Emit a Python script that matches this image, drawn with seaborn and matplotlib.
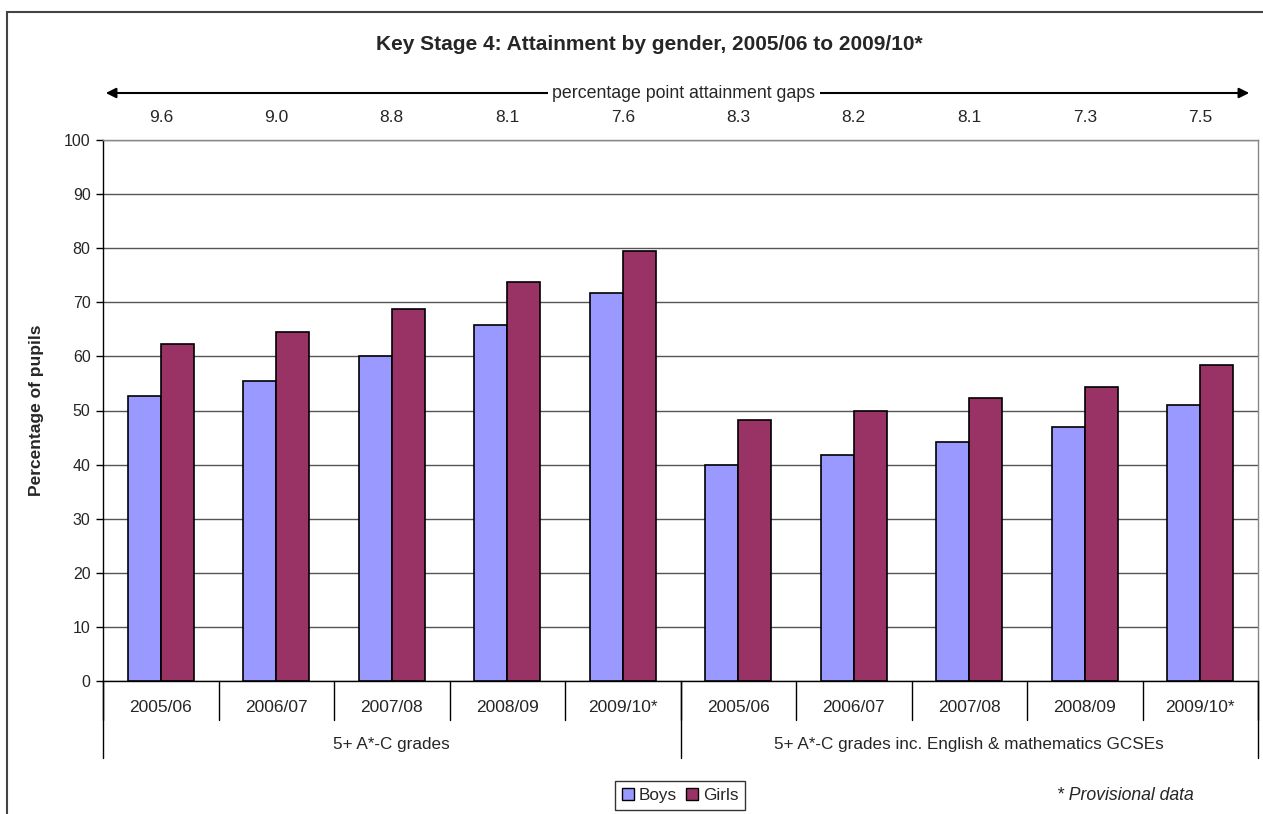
import matplotlib
matplotlib.use('Agg')
import matplotlib.pyplot as plt
import matplotlib.patches as mpatches
import matplotlib.transforms as mtrans
import seaborn as sns
import pandas as pd

# data
years = ['2005/06', '2006/07', '2007/08', '2008/09', '2009/10*']
groups = ['5+ A*-C grades', '5+ A*-C grades inc. English & mathematics GCSEs']
boys = [52.6, 55.5, 60.0, 65.8, 71.8, 39.9, 41.8, 44.2, 47.0, 51.1]
girls = [62.3, 64.5, 68.8, 73.8, 79.4, 48.2, 50.0, 52.3, 54.3, 58.5]
gaps = ['9.6', '9.0', '8.8', '8.1', '7.6', '8.3', '8.2', '8.1', '7.3', '7.5']

sns.set_style('white')
plt.rcParams['font.family'] = ['Liberation Sans', 'DejaVu Sans']

cats = [g[:1] + str(i) + '|' + y for i, g in enumerate(groups) for y in years]
df = pd.DataFrame({
    'cat': cats * 2,
    'value': boys + girls,
    'gender': ['Boys'] * len(cats) + ['Girls'] * len(cats),
})

fig = plt.figure(figsize=(12.63, 8.14), dpi=100)
ax = fig.add_axes([103 / 1263, 133 / 814, 1155 / 1263, 541 / 814])

sns.barplot(data=df, x='cat', y='value', hue='gender', order=cats,
            palette={'Boys': '#9999FF', 'Girls': '#993366'}, saturation=1,
            width=0.571, edgecolor='black', linewidth=1.2, ax=ax, legend=False,
            zorder=3)

ax.set_xlim(-0.5, len(cats) - 0.5)
ax.set_ylim(0, 100)
ax.set_yticks(range(0, 101, 10))
ax.yaxis.grid(True, color='#555555', linewidth=1, zorder=0)
ax.set_xticks([])
ax.set_xlabel('')
ax.set_ylabel('Percentage of pupils', fontsize=12.5, fontweight='bold', labelpad=14)
ax.tick_params(axis='y', which='both', left=True, direction='out', length=5,
               width=1, color='black', labelsize=11.5, pad=4)
for s in ['top', 'right']:
    ax.spines[s].set_color('#888888')
    ax.spines[s].set_linewidth(1)
for s in ['left', 'bottom']:
    ax.spines[s].set_color('black')
    ax.spines[s].set_linewidth(1)

# two-level category axis
tr = mtrans.blended_transform_factory(ax.transData, ax.transAxes)
for i in range(len(cats) + 1):
    ax.plot([i - 0.5, i - 0.5], [0, -39 / 541], transform=tr, color='black',
            lw=1, clip_on=False)
for i in [0, 5, 10]:
    ax.plot([i - 0.5, i - 0.5], [0, -77 / 541], transform=tr, color='black',
            lw=1, clip_on=False)
for i, c in enumerate(cats):
    ax.text(i, -26 / 541, c.split('|')[1], transform=tr, ha='center', va='center',
            fontsize=12.5)
    ax.text(i, 1 + 23 / 541, gaps[i], transform=tr, ha='center', va='center',
            fontsize=12.5)
for j, g in enumerate(groups):
    ax.text(j * 5 + 2, -64 / 541, g, transform=tr, ha='center', va='center',
            fontsize=12.3)

# title and gap arrow
fig.text(649 / 1263, 1 - 45 / 814,
         'Key Stage 4: Attainment by gender, 2005/06 to 2009/10*',
         ha='center', va='center', fontsize=15, fontweight='bold')
ya = 1 - 93 / 814
fig.add_artist(mpatches.FancyArrowPatch((103 / 1263, ya), (1252 / 1263, ya),
                                        transform=fig.transFigure,
                                        arrowstyle='<|-|>,head_length=6,head_width=3',
                                        mutation_scale=1, color='black', lw=1.5))
fig.text(684 / 1263, ya, 'percentage point attainment gaps', ha='center',
         va='center', fontsize=12.8,
         bbox=dict(facecolor='white', edgecolor='none', pad=3))

# legend and note
handles = [mpatches.Patch(facecolor='#9999FF', edgecolor='black', label='Boys'),
           mpatches.Patch(facecolor='#993366', edgecolor='black', label='Girls')]
leg = fig.legend(handles=handles, loc='upper center', ncol=2,
                 bbox_to_anchor=(680 / 1263, 1 - 781 / 814), fontsize=12.3,
                 frameon=True, fancybox=False, edgecolor='black',
                 handlelength=0.7, handleheight=0.7, handletextpad=0.3,
                 columnspacing=0.5, borderpad=0.4, borderaxespad=0)
leg.get_frame().set_linewidth(1)
fig.text(1125 / 1263, 1 - 796 / 814, '* Provisional data', ha='center',
         va='center', fontsize=12.7, style='italic')

# outer chart frame
fig.add_artist(mpatches.Rectangle((7 / 1263, -0.1), 1.2, 1 - 12 / 814 + 0.1,
                                  transform=fig.transFigure, fill=False,
                                  edgecolor='#444444', lw=1.5))

fig.savefig('out.png', dpi=100)
